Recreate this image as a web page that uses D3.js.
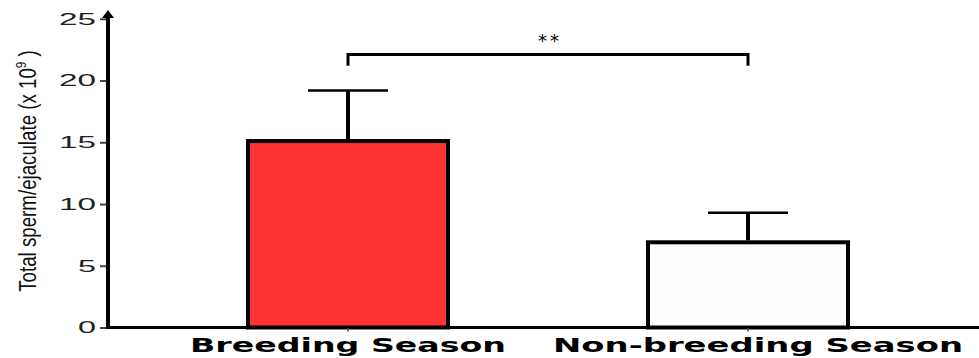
<!DOCTYPE html>
<meta charset="utf-8">
<style>
	body { margin: 0; background: #fff; }
	.ytick text { font: 17px "Liberation Sans", Arial, sans-serif; fill: #222; }
	.xlab { font: bold 19px "DejaVu Sans", Verdana, sans-serif; fill: #000; }
</style>
<body>
<script src="https://d3js.org/d3.v7.min.js"></script>
<script>

	var categories = ["Breeding Season", "Non-breeding Season"];
	var means = [15.1, 6.9];
	var sems = [4.1, 2.4];
	var yTicks = [0, 5, 10, 15, 20, 25];
	var signif = "**";

	var width = 979,
		height = 358;

	var svg = d3.select("body").append("svg")
		.attr("width", width)
		.attr("height", height);

	var y = d3.scaleLinear()
		.domain([0, 25])
		.range([327.5, 18.8]);

	var x = d3.scaleBand()
		.domain(categories)
		.range([148, 948])
		.paddingInner(0.5)
		.paddingOuter(0.25);

	var fills = ["#ff3334", "#fdfdfd"];

	// bars
	svg.selectAll(".bar")
		.data(categories)
		.enter().append("rect")
		.attr("class", "bar")
		.attr("x", function(d) { return x(d); })
		.attr("width", x.bandwidth())
		.attr("y", function(d, i) { return y(means[i]); })
		.attr("height", function(d, i) { return y(0) - y(means[i]); })
		.style("fill", function(d, i) { return fills[i]; })
		.style("stroke", "#000")
		.style("stroke-width", 4);

	// error bars (upper only)
	var err = svg.selectAll(".err")
		.data(categories)
		.enter().append("g")
		.attr("class", "err");

	err.append("line")
		.attr("x1", function(d) { return x(d) + x.bandwidth() / 2; })
		.attr("x2", function(d) { return x(d) + x.bandwidth() / 2; })
		.attr("y1", function(d, i) { return y(means[i]) - 2; })
		.attr("y2", function(d, i) { return y(means[i] + sems[i]); })
		.style("stroke", "#000")
		.style("stroke-width", 4);

	err.append("line")
		.attr("x1", function(d) { return x(d) + x.bandwidth() / 2 - 40; })
		.attr("x2", function(d) { return x(d) + x.bandwidth() / 2 + 40; })
		.attr("y1", function(d, i) { return y(means[i] + sems[i]); })
		.attr("y2", function(d, i) { return y(means[i] + sems[i]); })
		.style("stroke", "#000")
		.style("stroke-width", 2.5);

	// significance bracket
	var bx1 = x(categories[0]) + x.bandwidth() / 2,
		bx2 = x(categories[1]) + x.bandwidth() / 2;
	svg.append("path")
		.attr("d", "M" + bx1 + "," + y(21.2) + "V" + y(22.1) + "H" + bx2 + "V" + y(21.2))
		.style("fill", "none")
		.style("stroke", "#000")
		.style("stroke-width", 3);

	svg.append("text")
		.attr("x", (bx1 + bx2) / 2 + 2)
		.attr("y", 47)
		.attr("text-anchor", "middle")
		.style("font", "18px 'DejaVu Sans', sans-serif")
		.style("letter-spacing", "3px")
		.text(signif);

	// x axis line
	svg.append("line")
		.attr("x1", 107)
		.attr("x2", width)
		.attr("y1", y(0))
		.attr("y2", y(0))
		.style("stroke", "#000")
		.style("stroke-width", 3);

	// x ticks
	svg.selectAll(".xtick")
		.data(categories)
		.enter().append("line")
		.attr("x1", function(d) { return x(d) + x.bandwidth() / 2; })
		.attr("x2", function(d) { return x(d) + x.bandwidth() / 2; })
		.attr("y1", y(0) + 1)
		.attr("y2", y(0) + 4)
		.style("stroke", "#666")
		.style("stroke-width", 2);

	var labelWidths = [316, 410];
	svg.selectAll(".xlab")
		.data(categories)
		.enter().append("text")
		.attr("class", "xlab")
		.attr("x", function(d, i) { return x(d) + x.bandwidth() / 2 + (i ? 10 : 0); })
		.attr("y", 352)
		.attr("text-anchor", "middle")
		.attr("textLength", function(d, i) { return labelWidths[i]; })
		.attr("lengthAdjust", "spacingAndGlyphs")
		.text(function(d) { return d; });

	// y axis
	var yAxis = d3.axisLeft(y)
		.tickValues(yTicks)
		.tickSize(8)
		.tickPadding(4);

	var gy = svg.append("g")
		.attr("class", "ytick")
		.attr("transform", "translate(108,0)")
		.call(yAxis);
	gy.select(".domain").remove();
	gy.selectAll(".tick line").style("stroke", "#444").style("stroke-width", 2);
	gy.selectAll(".tick text")
		.attr("textLength", function(d) { return d < 10 ? 18 : 37; })
		.attr("lengthAdjust", "spacingAndGlyphs");

	svg.append("line")
		.attr("x1", 108)
		.attr("x2", 108)
		.attr("y1", y(0) + 1.5)
		.attr("y2", 16)
		.style("stroke", "#000")
		.style("stroke-width", 4);

	svg.append("path")
		.attr("d", "M108,10L102,18L114,18Z")
		.style("fill", "#000");

	// y label, condensed
	var ylab = svg.append("text")
		.attr("transform", "translate(36,171) rotate(-90) scale(0.78,1)")
		.attr("text-anchor", "middle")
		.style("font", "24px 'Liberation Sans', Arial, sans-serif")
		.style("fill", "#111");
	ylab.append("tspan").text("Total sperm/ejaculate (x 10");
	ylab.append("tspan").attr("dy", -10).style("font-size", "15px").text("9");
	ylab.append("tspan").attr("dy", 10).text(" )");
</script>
